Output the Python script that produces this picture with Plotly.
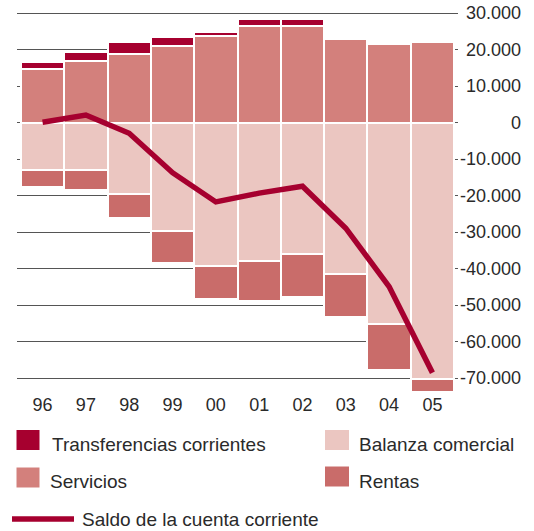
import plotly.graph_objects as go

# ---- data ----
years = ["96", "97", "98", "99", "00", "01", "02", "03", "04", "05"]
servicios = [14600, 16800, 18900, 21000, 23700, 26500, 26500, 22900, 21500, 22100]
transferencias = [2000, 2600, 3300, 2500, 1200, 1800, 1800, 0, 0, 0]
balanza = [-13000, -13000, -19400, -29700, -39300, -38000, -35900, -41500, -55200, -70300]
rentas = [-4700, -5500, -6600, -8800, -8900, -10900, -11700, -11700, -12500, -3500]
saldo = [100, 2100, -2900, -13700, -21700, -19300, -17400, -28900, -44900, -68500]

y_tickvals = [30000, 20000, 10000, 0, -10000, -20000, -30000, -40000, -50000, -60000, -70000]
y_ticktext = ["30.000", "20.000", "10.000", "0", "-10.000", "-20.000", "-30.000",
              "-40.000", "-50.000", "-60.000", "-70.000"]

legend_labels = ["Transferencias corrientes", "Balanza comercial", "Servicios", "Rentas",
                 "Saldo de la cuenta corriente"]

# ---- styles ----
C_TRANS = "#A6002F"
C_SERV = "#D3807C"
C_BAL = "#EBC6C1"
C_RENT = "#C96C6A"
C_LINE = "#A6002F"
C_TEXT = "#2a2a2a"
FONT = "Liberation Sans, Arial, sans-serif"

W, H = 534, 531
L, R, T, B = 17, 76, 12, 139
PW, PH = W - L - R, H - T - B


def px(x):
    return (x - L) / PW


def py(y):
    return (H - B - y) / PH


x = list(range(len(years)))
bar_line = dict(color="white", width=2)

fig = go.Figure()
fig.add_trace(go.Bar(x=x, y=servicios, name="Servicios",
                     marker=dict(color=C_SERV, line=bar_line)))
fig.add_trace(go.Bar(x=x, y=transferencias, name="Transferencias corrientes",
                     marker=dict(color=C_TRANS, line=bar_line)))
fig.add_trace(go.Bar(x=x, y=balanza, name="Balanza comercial",
                     marker=dict(color=C_BAL, line=bar_line)))
fig.add_trace(go.Bar(x=x, y=rentas, name="Rentas",
                     marker=dict(color=C_RENT, line=bar_line)))
fig.add_trace(go.Scatter(x=x, y=saldo, name="Saldo de la cuenta corriente", mode="lines",
                         line=dict(color=C_LINE, width=5.5)))

annotations = []
for v, t in zip(y_tickvals, y_ticktext):
    annotations.append(dict(x=px(523), y=v, xref="paper", yref="y", text=t,
                            showarrow=False, xanchor="right", yanchor="middle",
                            font=dict(size=18, color=C_TEXT, family=FONT)))

shapes = []
# manual legend
swatches = [
    (C_TRANS, 16.5, 430, 39.5, 450),
    (C_BAL, 325, 430, 349, 450),
    (C_SERV, 16.5, 467.5, 39.5, 487.5),
    (C_RENT, 325, 466.5, 349, 486.5),
]
for col, x0, y0, x1, y1 in swatches:
    shapes.append(dict(type="rect", xref="paper", yref="paper",
                       x0=px(x0), x1=px(x1), y0=py(y1), y1=py(y0),
                       fillcolor=col, line=dict(width=0), layer="above"))
shapes.append(dict(type="line", xref="paper", yref="paper",
                   x0=px(12), x1=px(74), y0=py(519), y1=py(519),
                   line=dict(color=C_LINE, width=5.5), layer="above"))

text_pos = [(50, 444), (357, 444), (48, 481), (357, 481), (80, 519.5)]
for lab, (tx, ty) in zip(legend_labels, text_pos):
    annotations.append(dict(x=px(tx), y=py(ty), xref="paper", yref="paper", text=lab,
                            showarrow=False, xanchor="left", yanchor="middle",
                            font=dict(size=19, color=C_TEXT, family=FONT)))

fig.update_layout(
    width=W, height=H,
    margin=dict(l=L, r=R, t=T, b=B, pad=0),
    paper_bgcolor="white", plot_bgcolor="white",
    barmode="relative", bargap=0,
    showlegend=False,
    hovermode=False,
    font=dict(family=FONT, color=C_TEXT, size=18),
    xaxis=dict(range=[-0.59, 9.59], tickmode="array", tickvals=x, ticktext=years,
               showgrid=False, zeroline=False, showline=False, ticks="",
               tickfont=dict(size=18, color=C_TEXT, family=FONT)),
    yaxis=dict(range=[-73750, 30300], tickmode="array", tickvals=y_tickvals,
               showticklabels=False, showgrid=True, gridcolor="#555555", gridwidth=1,
               zeroline=True, zerolinecolor="#555555", zerolinewidth=1,
               showline=False, ticks=""),
    annotations=annotations,
    shapes=shapes,
)

fig.write_html("out.html",
               config={"displayModeBar": False},
               post_script="document.body.style.margin='0';document.body.style.overflow='hidden';")
